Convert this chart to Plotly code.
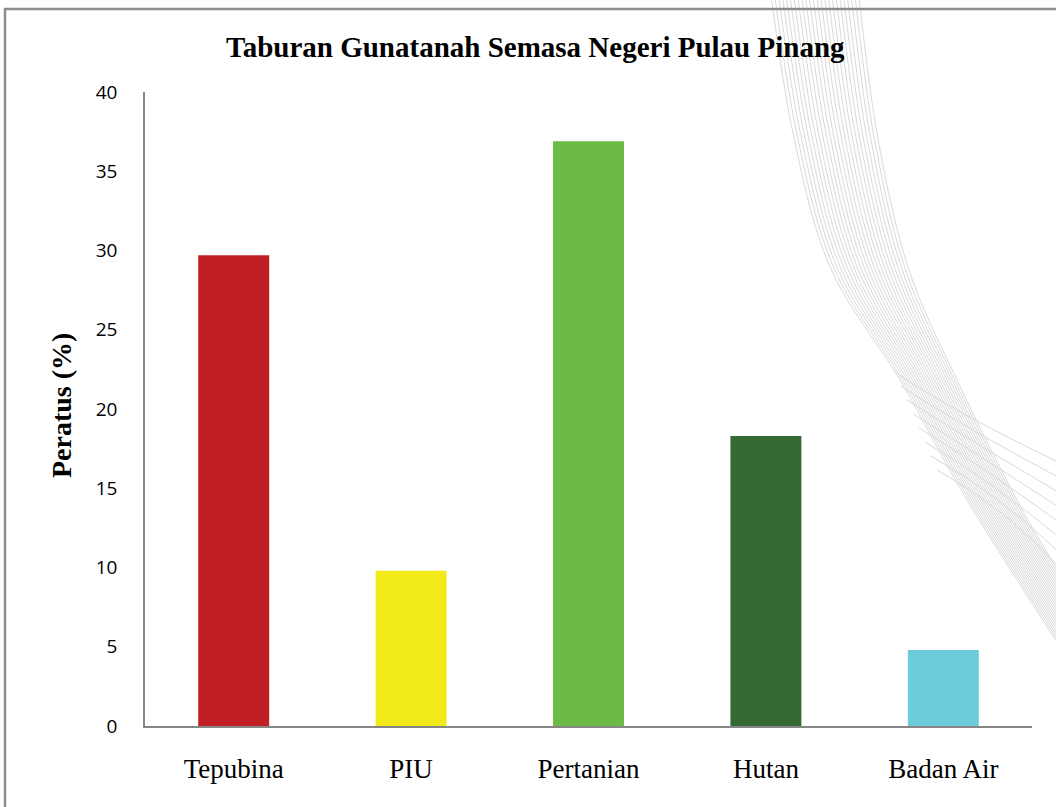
import plotly.graph_objects as go

categories = ["Tepubina", "PIU", "Pertanian", "Hutan", "Badan Air"]
values = [29.7, 9.8, 36.9, 18.3, 4.8]
colors = ["#C01F25", "#F2EA18", "#6CBB45", "#356A33", "#6CCCDA"]
y_ticks = [0, 5, 10, 15, 20, 25, 30, 35, 40]

W, H = 1056, 807
ML, MR, MT, MB = 145, 24, 92, 81
PW = W - ML - MR
PH = H - MT - MB


def px(x):
    return (x - ML) / PW


def py(y):
    return (H - MB - y) / PH


def pt(p):
    return f"{px(p[0]):.5f},{py(p[1]):.5f}"


def catmull_path(pts):
    d = f"M {pt(pts[0])}"
    n = len(pts)
    for i in range(n - 1):
        p0 = pts[i - 1] if i > 0 else pts[i]
        p1 = pts[i]
        p2 = pts[i + 1]
        p3 = pts[i + 2] if i + 2 < n else pts[i + 1]
        c1 = (p1[0] + (p2[0] - p0[0]) / 6, p1[1] + (p2[1] - p0[1]) / 6)
        c2 = (p2[0] - (p3[0] - p1[0]) / 6, p2[1] - (p3[1] - p1[1]) / 6)
        d += f" C {pt(c1)} {pt(c2)} {pt(p2)}"
    return d


fig = go.Figure()
fig.add_trace(go.Bar(x=categories, y=values, marker=dict(color=colors, line=dict(width=0)),
                     showlegend=False, hoverinfo="skip"))

shapes = []
LINE = dict(color="#d9d9d9", width=1)
# decorative curve bundle
left = [(770, -10), (793, 133), (830, 267), (900, 380), (967, 500), (1062, 650)]
right = [(858, -10), (877, 133), (908, 267), (957, 380), (1017, 500), (1062, 577)]
N = 24
for i in range(N):
    t = i / (N - 1)
    pts = [(a[0] + (b[0] - a[0]) * t, a[1] + (b[1] - a[1]) * t) for a, b in zip(left, right)]
    shapes.append(dict(type="path", path=catmull_path(pts), xref="paper", yref="paper",
                       line=LINE, layer="below"))
# fan lines
M = 8
for j in range(M):
    S = (895 + 6 * j, 372 + 14 * j)
    C = (950 + 8 * j, 410 + 14 * j)
    E = (1060, 463 + 15 * j)
    path = f"M {pt(S)} Q {pt(C)} {pt(E)}"
    shapes.append(dict(type="path", path=path, xref="paper", yref="paper",
                       line=LINE, layer="below"))
# outer frame (top and left edges; the others fall outside the page)
FRAME = dict(color="#8c8c8c", width=2.5)
shapes.append(dict(type="line", xref="paper", yref="paper", layer="above",
                   x0=px(4), y0=py(9), x1=px(1056), y1=py(9), line=FRAME))
shapes.append(dict(type="line", xref="paper", yref="paper", layer="above",
                   x0=px(5), y0=py(8), x1=px(5), y1=py(820), line=FRAME))

fig.update_layout(
    width=W, height=H,
    margin=dict(l=ML, r=MR, t=MT, b=MB),
    paper_bgcolor="white", plot_bgcolor="rgba(0,0,0,0)",
    bargap=0.6,
    shapes=shapes,
    annotations=[
        dict(text="<b>Taburan Gunatanah Semasa Negeri Pulau Pinang</b>", xref="paper", yref="paper",
             x=px(535), y=py(47), xanchor="center", yanchor="middle", showarrow=False,
             font=dict(family="Liberation Serif", size=29, color="black")),
        dict(text="<b>Peratus (%)</b>", xref="paper", yref="paper",
             x=px(61), y=py(406), xanchor="center", yanchor="middle", showarrow=False,
             textangle=-90, font=dict(family="Liberation Serif", size=28, color="black")),
    ],
    xaxis=dict(showline=True, linecolor="#868686", linewidth=1.5, showgrid=False,
               ticks="", tickfont=dict(family="Liberation Serif", size=27, color="black"),
               ticklabelstandoff=18),
    yaxis=dict(range=[0, 40], tickvals=y_ticks, showline=True, linecolor="#868686", linewidth=1.5,
               showgrid=False, zeroline=False, ticks="",
               tickfont=dict(family="Open Sans", size=19, color="black"),
               ticklabelstandoff=22),
)

fig.write_html("out.html", config={"displayModeBar": False},
               post_script="document.body.style.margin='0';")
